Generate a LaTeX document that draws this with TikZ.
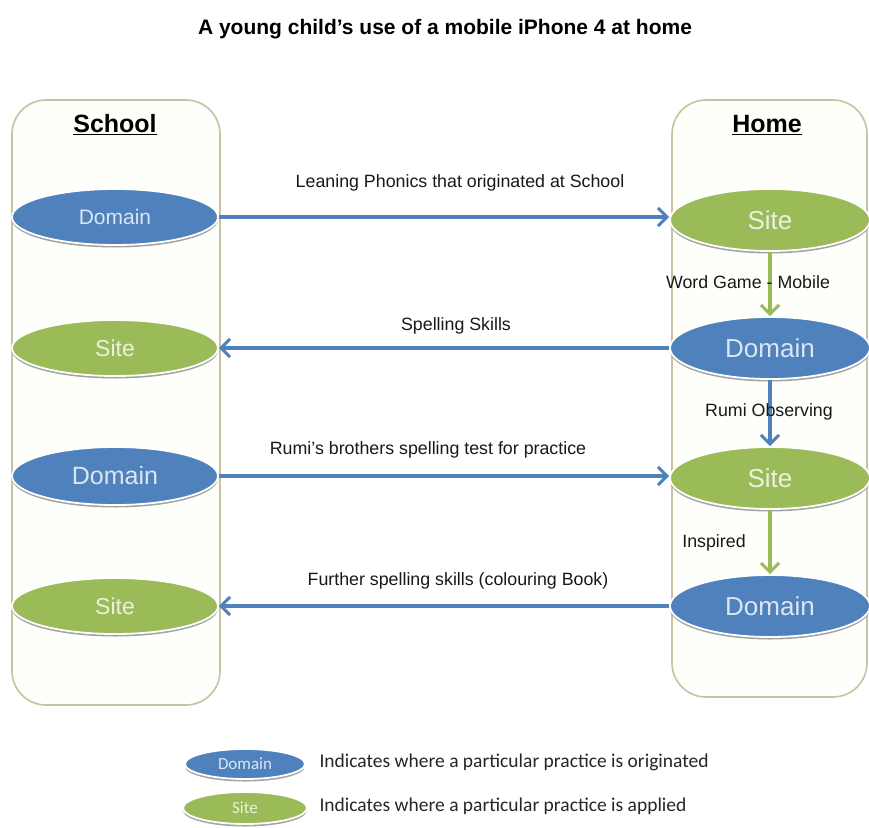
\documentclass[tikz,border=0pt]{standalone}
\usepackage{fontspec}
\setmainfont{Liberation Sans}
\newfontfamily\carlitofont{Carlito}
\usetikzlibrary{arrows.meta,shapes.geometric,shadows}
\definecolor{dblue}{HTML}{4F81BD}
\definecolor{sgreen}{HTML}{9BBB59}
\definecolor{boxline}{HTML}{C9C2A0}
\definecolor{boxfill}{HTML}{FEFEFA}
\definecolor{dtext}{HTML}{DCE6F2}
\definecolor{stext}{HTML}{EBF1DE}
\tikzset{
  x=1pt,y=-1pt,
  column/.style={draw=boxline,line width=1.6pt,fill=boxfill,rounded corners=34pt},
  ell/.style={ellipse,draw=white,line width=1.8pt,inner sep=0pt,
     drop shadow={shadow xshift=0pt,shadow yshift=-2.5pt,fill=black!45,opacity=0.8}},
  dom/.style={ell,fill=dblue,text=dtext},
  sit/.style={ell,fill=sgreen,text=stext},
  harrow/.style={draw=dblue,line width=3.5pt,-{Straight Barb[length=9pt,width=18pt,line width=3pt]}},
  garrow/.style={draw=sgreen,line width=3.5pt,-{Straight Barb[length=9pt,width=18pt,line width=3pt]}},
  barrow/.style={draw=dblue,line width=3.5pt,-{Straight Barb[length=9pt,width=18pt,line width=3pt]}},
  lbl/.style={font=\fontsize{17.8}{20}\selectfont,text=black!90,inner sep=1pt},
  head/.style={font=\fontsize{25}{28}\selectfont\bfseries},
  legtxt/.style={font=\carlitofont\fontsize{19.5}{22}\selectfont,anchor=west,text=black!85}
}
\begin{document}
\begin{tikzpicture}
\useasboundingbox[fill=white] (0,0) rectangle (869,827);
\node[font=\fontsize{21}{24}\selectfont\bfseries] (title) at (445,29) {A young child’s use of a mobile iPhone 4 at home};
% columns
\draw[column] (12,100) rectangle (220,705);
\draw[column] (672,100) rectangle (867,697);
\node[head] (school) at (115,125) {\underline{School}};
\node[head] (home) at (767,125) {\underline{Home}};
% left ellipses
\node[dom,minimum width=206pt,minimum height=56pt,font=\fontsize{21}{24}\selectfont] (l1) at (115,217) {Domain};
\node[sit,minimum width=206pt,minimum height=56pt,font=\fontsize{23}{26}\selectfont] (l2) at (115,348) {Site};
\node[dom,minimum width=206pt,minimum height=58pt,font=\fontsize{25}{28}\selectfont] (l3) at (115,476) {Domain};
\node[sit,minimum width=206pt,minimum height=56pt,font=\fontsize{23}{26}\selectfont] (l4) at (115,606) {Site};
% right ellipses
\node[sit,minimum width=200pt,minimum height=62pt,font=\fontsize{26}{29}\selectfont] (r1) at (770,220) {Site};
\node[dom,minimum width=200pt,minimum height=62pt,font=\fontsize{26}{29}\selectfont] (r2) at (770,348) {Domain};
\node[sit,minimum width=200pt,minimum height=62pt,font=\fontsize{26}{29}\selectfont] (r3) at (770,478) {Site};
\node[dom,minimum width=200pt,minimum height=62pt,font=\fontsize{26}{29}\selectfont] (r4) at (770,606) {Domain};
% horizontal arrows
\draw[harrow] (l1.east) -- (r1.west |- l1.east);
\draw[harrow] (r2.west) -- (l2.east);
\draw[harrow] (l3.east) -- (r3.west |- l3.east);
\draw[harrow] (r4.west) -- (l4.east);
\node[lbl] (t1) at (460,183) {Leaning Phonics that originated at School};
\node[lbl] (t2) at (456,326) {Spelling Skills};
\node[lbl] (t3) at (428,450) {Rumi’s brothers spelling test for practice};
\node[lbl] (t4) at (458,581) {Further spelling skills (colouring Book)};
% vertical arrows
\draw[garrow] (r1.south) -- (r2.north);
\draw[barrow] (r2.south) -- (r3.north);
\draw[garrow] (r3.south) -- (r4.north);
\node[lbl] (v1) at (748,282) {Word Game - Mobile};
\node[lbl] (v2) at (769,412) {Rumi Observing};
\node[lbl] (v3) at (714,543) {Inspired};
% legend
\node[dom,minimum width=120pt,minimum height=30pt,font=\carlitofont\fontsize{17}{19}\selectfont] (lg1) at (245,764) {Domain};
\node[sit,minimum width=124pt,minimum height=32pt,font=\carlitofont\fontsize{17}{19}\selectfont] (lg2) at (245,808) {Site};
\node[legtxt] (lt1) at (316,762) {Indicates where a particular practice is originated};
\node[legtxt] (lt2) at (316,806) {Indicates where a particular practice is applied};
\end{tikzpicture}
\end{document}
